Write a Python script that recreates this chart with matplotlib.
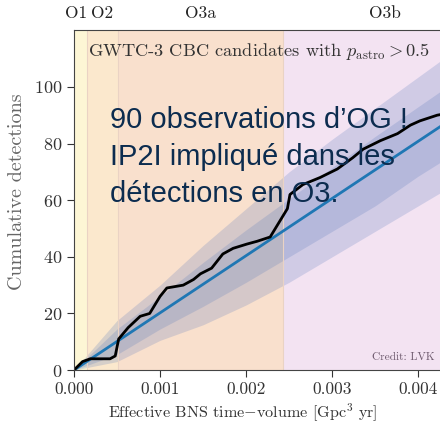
import numpy as np
import matplotlib.pyplot as plt

plt.rcParams['font.family'] = ['cmr10', 'DejaVu Serif']
plt.rcParams['mathtext.fontset'] = 'cm'
plt.rcParams['axes.formatter.use_mathtext'] = True

# observing runs (effective BNS VT at end of each run)
runs = ["O1", "O2", "O3a", "O3b"]
run_edges = [0.0, 0.000151, 0.000512, 0.00243, 0.0048]
run_colors = ["#fdf6d5", "#fbe8cd", "#f9e0cd", "#f3e3f2"]

# observed cumulative detections
vt_obs = [0.0, 0.0001, 0.00019, 0.00042, 0.00048, 0.00052, 0.00063, 0.00077, 0.00088,
          0.00100, 0.00108, 0.00127, 0.00139, 0.00147, 0.00160, 0.00173, 0.00185,
          0.00201, 0.00213, 0.00228, 0.00236, 0.00248, 0.00251, 0.00266, 0.00286,
          0.00306, 0.00324, 0.00336, 0.00356, 0.00376, 0.00391, 0.00402, 0.00422, 0.0044]
n_obs = [0, 3, 4, 4, 5, 11, 15, 19, 20, 26, 29, 30, 32, 34, 36, 41, 43, 44.5, 45.5, 47,
         51, 57, 62, 65.5, 68, 71, 75, 78, 81, 83.5, 86.5, 88, 90, 91]

# expected detections and credible bands
vt_band = [0.0, 0.0005, 0.001, 0.0015, 0.002, 0.0025, 0.003, 0.0035, 0.004, 0.0045, 0.0048]
n_expected = [0.0, 10.1, 20.2, 30.3, 40.4, 50.5, 60.6, 70.7, 80.8, 90.9, 97.0]
inner_lo = [0.0, 5.5, 14.5, 22.5, 31.0, 40.0, 49.0, 58.0, 68.5, 78.0, 84.0]
inner_hi = [0.0, 14.5, 26.0, 38.0, 49.5, 60.5, 71.5, 82.5, 93.0, 103.5, 110.0]
outer_lo = [0.0, 3.0, 10.5, 16.0, 23.0, 31.0, 40.0, 49.0, 58.0, 67.0, 72.5]
outer_hi = [0.0, 17.5, 30.0, 44.0, 57.0, 70.0, 81.5, 92.5, 103.5, 114.5, 121.0]

fig = plt.figure(figsize=(4.4, 4.38), dpi=100)
ax = fig.add_axes([0.168, 0.155, 0.939, 0.776])

for i in range(len(runs)):
    ax.axvspan(run_edges[i], run_edges[i + 1], color=run_colors[i], lw=0)
    ax.axvline(run_edges[i + 1], color="#ead3c4", lw=0.8)
    xc = 0.5 * (run_edges[i] + run_edges[i + 1])
    if runs[i] == "O1":
        xc = 0.00002
    ax.text(xc, 1.05, runs[i], transform=ax.get_xaxis_transform(), ha="center",
            va="center", fontsize=12.5, color="#222222")

ax.fill_between(vt_band, outer_lo, outer_hi, color="#5577bb", alpha=0.22, lw=0)
ax.fill_between(vt_band, inner_lo, inner_hi, color="#5577bb", alpha=0.22, lw=0)
ax.plot(vt_band, n_expected, color="#1f77b4", lw=2)
ax.plot(vt_obs, n_obs, color="black", lw=2)

ax.set_xlim(0, 0.0048)
ax.set_ylim(0, 120)
ax.set_xticks([0.0, 0.001, 0.002, 0.003, 0.004])
ax.set_xticklabels(["0.000", "0.001", "0.002", "0.003", "0.004"])
ax.set_yticks([0, 20, 40, 60, 80, 100])
ax.tick_params(labelsize=12.5, colors="#333333", length=5)
ax.tick_params(axis="y", labelsize=13)
for s in ax.spines.values():
    s.set_color("#444444")
ax.set_xlabel(r"Effective BNS time$-$volume [Gpc$^3$ yr]", fontsize=11.6, color="#333333")
ax.xaxis.set_label_coords(0.409, -0.095)
ax.set_ylabel("Cumulative detections", fontsize=14.5, color="#666666")
ax.yaxis.set_label_coords(-0.116, 0.524)

ax.text(0.000163, 112.5, r"GWTC-3 CBC candidates with $p_{\mathrm{astro}} > 0.5$",
        fontsize=13.2, ha="left", va="center", color="#333333")
ax.text(0.00419, 4.5, "Credit: LVK", fontsize=8.2, ha="right", va="center", color="#6e5a6e")

fig.text(0.25, 0.757, "90 observations d\u2019OG !\nIP2I impliqué dans les\ndétections en O3.",
         fontsize=21, family=["Liberation Sans", "DejaVu Sans"], color="#0c2c4f",
         ha="left", va="top", linespacing=1.4)

fig.savefig("out.png", dpi=100)
